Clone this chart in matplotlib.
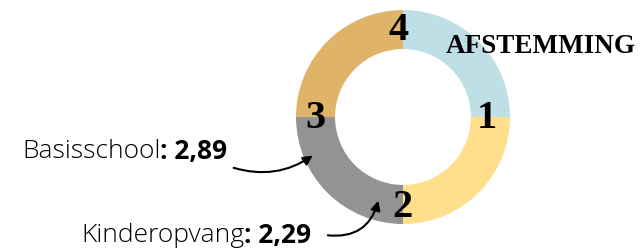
import numpy as np
import matplotlib.pyplot as plt

# quadrant values (equal parts) and their colours
sizes = [1, 1, 1, 1]
colors = ['#BFDFE6', '#FFDE8C', '#939393', '#E0B468']
numbers = ['1', '2', '3', '4']
number_pos = [(487, 118), (402, 208), (315, 119), (399, 30)]

labels = ['Basisschool', 'Kinderopvang']
scores = ['2,89', '2,29']

W, H = 641, 253
fig = plt.figure(figsize=(W / 100, H / 100), dpi=100)
ax = fig.add_axes([0, 0, 1, 1])

cx, cy, r = 403, 118, 107
ax.pie(sizes, colors=colors, startangle=90, counterclock=False,
       center=(cx, H - cy), radius=r,
       wedgeprops=dict(width=r * 0.365, linewidth=0))

ax.set_xlim(0, W)
ax.set_ylim(0, H)
ax.set_aspect('equal')
ax.axis('off')

for n, (x, y) in zip(numbers, number_pos):
    ax.text(x, H - y, n, family='Liberation Serif', weight='bold',
            fontsize=29, ha='center', va='center')

ax.text(541, H - 46, 'AFSTEMMING', family='Liberation Serif', weight='bold',
        fontsize=19.5, ha='center', va='center')

# labels: light name, bold score
def label(x, y, name, score):
    t = ax.text(x, H - y, name, family='Open Sans', weight='light',
                fontsize=19, ha='left', va='center')
    fig.canvas.draw()
    bb = t.get_window_extent()
    ax.text(bb.x1, H - y, ': ' + score, family='Open Sans', weight='bold',
            fontsize=19, ha='left', va='center')

label(22, 152, labels[0], scores[0])
label(81, 236, labels[1], scores[1])

ax.annotate('', xy=(315, H - 155), xytext=(231, H - 168),
            arrowprops=dict(arrowstyle='-|>', color='black', lw=1.5,
                            connectionstyle='arc3,rad=0.25',
                            mutation_scale=14))
ax.annotate('', xy=(379, H - 199), xytext=(325, H - 236),
            arrowprops=dict(arrowstyle='-|>', color='black', lw=1.5,
                            connectionstyle='arc3,rad=0.45',
                            mutation_scale=14))

fig.savefig('out.png', dpi=100)
